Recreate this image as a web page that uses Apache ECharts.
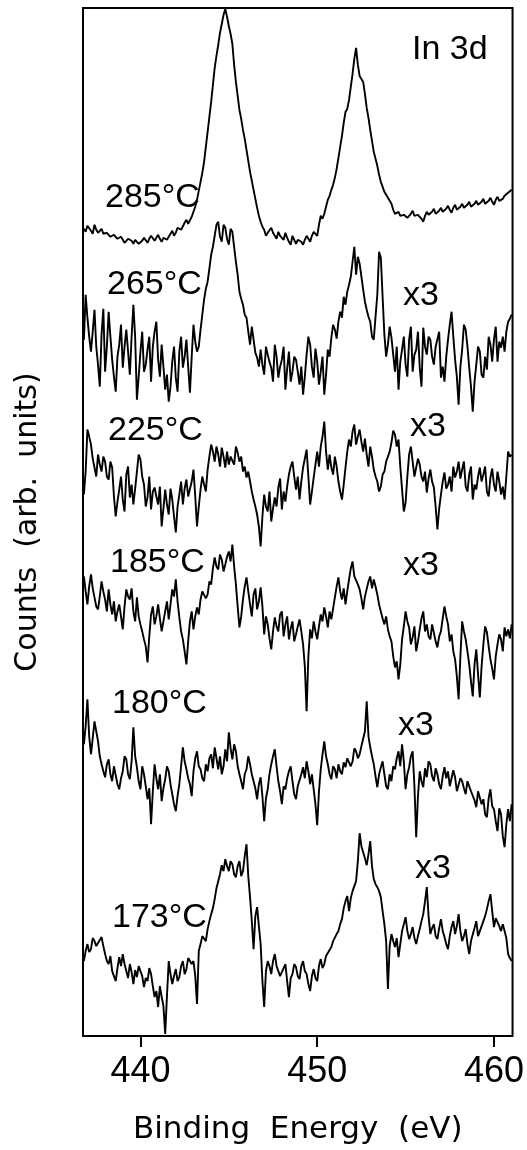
<!DOCTYPE html>
<html>
<head>
<meta charset="utf-8">
<script src="https://cdn.jsdelivr.net/npm/echarts@6/dist/echarts.min.js"></script>
<style>
  html, body { margin: 0; padding: 0; background: #ffffff; }
  #chart { width: 527px; height: 1150px; }
</style>
</head>
<body>
<div id="chart"></div>
<script>
// In 3d core-level spectra after annealing at several temperatures,
// stacked with a vertical offset (counts in arbitrary units).

// energy channels: first channel and spacing (eV)
const energyStart = 436.8;
const energyStep = 0.1;

const tickValues = [440, 450, 460];

const temperatures = ['285°C', '265°C', '225°C', '185°C', '180°C', '173°C'];
const scaleFactors = ['', 'x3', 'x3', 'x3', 'x3', 'x3'];

const counts285 = [
  808, 805, 811, 809, 806, 803, 812, 807, 804, 806, 808, 803, 801, 804, 805, 800, 799, 802, 803, 798,
  797, 800, 801, 794, 795, 798, 799, 796, 793, 797, 798, 793, 792, 796, 799, 797, 794, 798, 801, 799,
  796, 799, 802, 798, 795, 799, 801, 797, 799, 803, 806, 801, 804, 809, 811, 807, 809, 814, 817, 813,
  815, 820, 825, 830, 837, 846, 855, 864, 875, 890, 905, 920, 935, 952, 969, 981, 992, 1004, 1013, 1022,
  1028, 1020, 1011, 1003, 993, 972, 955, 941, 927, 918, 907, 898, 887, 876, 865, 856, 847, 838, 829, 821,
  815, 810, 807, 801, 804, 806, 809, 804, 801, 798, 805, 801, 799, 797, 804, 799, 795, 792, 801, 797,
  793, 797, 799, 795, 792, 797, 801, 798, 795, 801, 805, 803, 801, 812, 821, 818, 823, 830, 837, 841,
  847, 852, 859, 868, 879, 890, 901, 914, 925, 928, 937, 950, 963, 978, 989, 972, 961, 962, 955, 943,
  929, 919, 907, 896, 885, 878, 871, 862, 855, 850, 845, 842, 839, 836, 833, 827, 823, 822, 825, 821,
  819, 822, 824, 819, 818, 823, 826, 821, 819, 822, 823, 818, 815, 821, 825, 822, 820, 825, 828, 823,
  821, 826, 829, 825, 823, 828, 831, 827, 824, 829, 832, 827, 825, 830, 833, 829, 827, 832, 835, 830,
  828, 833, 836, 832, 830, 835, 838, 833, 831, 836, 839, 835, 832, 837, 840, 836, 834, 838, 841, 843,
  844, 846, 847
];

const counts265 = [
  697, 742, 719, 700, 685, 705, 727, 690, 672, 650, 702, 728, 665, 690, 725, 700, 677, 660, 645, 680,
  692, 712, 669, 690, 707, 685, 662, 700, 732, 700, 637, 660, 685, 705, 665, 672, 687, 700, 655, 690,
  705, 715, 677, 660, 692, 670, 647, 662, 635, 650, 675, 690, 659, 645, 685, 700, 669, 680, 697, 670,
  644, 680, 712, 695, 685, 690, 707, 722, 737, 748, 755, 768, 782, 790, 801, 812, 815, 800, 795, 812,
  809, 798, 792, 808, 805, 790, 775, 762, 745, 738, 732, 722, 719, 705, 692, 710, 697, 684, 679, 670,
  687, 672, 662, 690, 682, 675, 669, 655, 692, 680, 659, 670, 677, 690, 647, 668, 685, 655, 665, 680,
  677, 665, 652, 670, 642, 660, 682, 700, 692, 670, 659, 688, 675, 652, 665, 680, 642, 662, 687, 680,
  699, 712, 707, 698, 715, 725, 719, 740, 732, 745, 752, 760, 775, 790, 762, 780, 773, 760, 747, 735,
  727, 720, 715, 700, 697, 720, 742, 785, 779, 740, 702, 680, 692, 710, 699, 682, 665, 690, 647, 675,
  687, 700, 672, 660, 697, 710, 665, 682, 687, 705, 669, 650, 709, 690, 682, 700, 697, 680, 672, 690,
  692, 705, 659, 670, 655, 680, 697, 712, 725, 700, 677, 660, 632, 670, 687, 712, 707, 690, 669, 650,
  625, 655, 672, 690, 685, 662, 659, 680, 667, 700, 692, 675, 697, 710, 675, 695, 689, 700, 685, 705,
  715, 718, 722
];

const counts225 = [
  542, 565, 607, 600, 592, 578, 569, 560, 582, 572, 565, 580, 575, 560, 557, 575, 569, 540, 520, 535,
  547, 560, 537, 525, 562, 570, 539, 552, 532, 548, 565, 582, 577, 560, 552, 530, 539, 560, 527, 545,
  549, 540, 532, 550, 510, 528, 547, 532, 522, 548, 537, 520, 504, 530, 542, 555, 532, 548, 557, 540,
  539, 555, 567, 540, 510, 530, 547, 560, 552, 545, 567, 580, 592, 585, 575, 590, 582, 570, 589, 580,
  569, 585, 572, 580, 582, 572, 590, 584, 575, 580, 565, 570, 559, 565, 555, 545, 537, 530, 522, 510,
  490, 520, 542, 530, 525, 545, 515, 528, 539, 530, 549, 558, 527, 545, 535, 550, 562, 570, 575, 560,
  547, 560, 537, 555, 569, 578, 587, 560, 532, 545, 559, 572, 585, 570, 590, 600, 615, 585, 567, 582,
  569, 562, 580, 570, 555, 545, 537, 552, 569, 585, 597, 590, 605, 612, 592, 600, 607, 595, 585, 598,
  582, 570, 590, 580, 567, 560, 555, 545, 550, 562, 565, 575, 577, 585, 594, 606, 602, 590, 597, 570,
  547, 525, 534, 560, 582, 590, 575, 560, 562, 578, 572, 560, 555, 565, 544, 558, 567, 555, 549, 530,
  507, 528, 542, 555, 564, 548, 552, 560, 545, 570, 559, 565, 575, 558, 567, 575, 550, 545, 562, 570,
  537, 552, 547, 560, 569, 555, 562, 570, 545, 540, 559, 568, 552, 545, 565, 555, 542, 550, 537, 560,
  585, 580, 582
];

const counts185 = [
  460, 445, 432, 450, 462, 448, 439, 430, 427, 440, 455, 445, 437, 425, 447, 432, 422, 435, 415, 425,
  432, 420, 407, 430, 447, 440, 437, 448, 425, 415, 439, 420, 412, 405, 397, 390, 374, 400, 422, 430,
  412, 420, 432, 418, 405, 415, 425, 435, 417, 432, 447, 440, 457, 435, 419, 405, 397, 385, 372, 395,
  415, 425, 407, 420, 429, 422, 437, 445, 447, 438, 442, 455, 452, 468, 479, 470, 467, 482, 477, 465,
  472, 480, 485, 475, 492, 470, 452, 430, 409, 420, 437, 450, 459, 445, 432, 420, 442, 448, 427, 435,
  449, 430, 402, 420, 412, 398, 387, 405, 419, 410, 405, 422, 425, 400, 412, 420, 397, 408, 415, 395,
  402, 410, 417, 405, 392, 370, 325, 380, 407, 398, 415, 405, 397, 410, 422, 415, 429, 420, 409, 425,
  417, 428, 439, 450, 459, 445, 437, 448, 432, 445, 457, 468, 475, 460, 462, 452, 447, 438, 427, 440,
  442, 455, 460, 448, 457, 450, 442, 432, 425, 418, 412, 420, 407, 400, 395, 380, 369, 375, 357, 372,
  397, 410, 425, 415, 409, 392, 399, 410, 385, 395, 407, 418, 425, 405, 412, 400, 397, 412, 410, 395,
  389, 400, 405, 418, 430, 420, 412, 395, 402, 385, 377, 360, 337, 380, 415, 405, 397, 385, 372, 355,
  340, 372, 387, 362, 339, 370, 392, 410, 404, 390, 377, 368, 357, 380, 392, 402, 397, 385, 409, 400,
  407, 398, 412
];

const counts180 = [
  292, 310, 337, 300, 282, 298, 315, 305, 295, 280, 272, 265, 259, 272, 277, 262, 255, 270, 269, 252,
  247, 258, 265, 280, 277, 262, 257, 275, 309, 280, 269, 255, 247, 270, 262, 250, 237, 248, 212, 245,
  272, 258, 247, 262, 235, 248, 257, 270, 265, 252, 242, 232, 225, 240, 252, 270, 289, 275, 267, 258,
  252, 240, 265, 278, 285, 270, 267, 258, 255, 272, 265, 278, 282, 268, 289, 278, 267, 280, 262, 270,
  287, 275, 304, 288, 277, 292, 285, 270, 262, 255, 247, 262, 267, 280, 272, 262, 255, 248, 237, 252,
  259, 240, 215, 238, 247, 262, 272, 280, 287, 270, 255, 245, 232, 250, 247, 258, 265, 270, 255, 242,
  237, 250, 252, 262, 269, 258, 275, 265, 252, 262, 247, 232, 211, 245, 267, 282, 295, 280, 272, 262,
  257, 270, 267, 258, 272, 265, 262, 274, 269, 278, 279, 270, 275, 288, 285, 278, 282, 290, 292, 305,
  335, 300, 289, 280, 272, 260, 249, 262, 269, 275, 262, 250, 247, 262, 255, 270, 267, 278, 285, 270,
  292, 275, 247, 262, 269, 280, 285, 250, 199, 240, 265, 255, 249, 268, 259, 275, 272, 260, 255, 268,
  262, 252, 247, 260, 269, 258, 265, 250, 252, 266, 259, 245, 247, 258, 255, 248, 242, 255, 257, 245,
  244, 236, 229, 245, 247, 232, 237, 222, 219, 238, 247, 230, 227, 215, 205, 228, 222, 200, 189, 212,
  227, 215, 232
];

const counts173 = [
  75, 85, 92, 84, 87, 98, 95, 90, 89, 96, 99, 90, 82, 75, 72, 80, 65, 60, 55, 68,
  79, 70, 82, 72, 65, 58, 72, 64, 52, 66, 59, 70, 72, 60, 49, 58, 55, 68, 62, 50,
  39, 45, 29, 50, 39, 30, 2, 40, 75, 62, 52, 60, 67, 55, 59, 70, 75, 62, 67, 78,
  79, 72, 75, 60, 32, 85, 92, 100, 99, 95, 107, 115, 122, 128, 137, 148, 155, 162, 171, 165,
  177, 170, 165, 175, 172, 162, 159, 170, 175, 160, 165, 180, 192, 160, 139, 115, 87, 120, 129, 110,
  92, 55, 29, 65, 75, 70, 62, 75, 82, 70, 69, 60, 59, 68, 72, 55, 39, 58, 62, 72,
  69, 60, 57, 70, 75, 65, 62, 52, 45, 60, 67, 58, 55, 70, 77, 68, 72, 80, 82, 86,
  89, 95, 97, 102, 105, 112, 117, 128, 135, 140, 125, 138, 145, 150, 155, 175, 203, 190, 189, 178,
  171, 182, 195, 170, 157, 152, 149, 145, 139, 125, 112, 95, 47, 90, 102, 95, 89, 98, 79, 92,
  105, 112, 119, 105, 97, 102, 109, 98, 92, 100, 107, 115, 122, 135, 149, 120, 102, 108, 112, 100,
  97, 108, 117, 105, 99, 92, 87, 100, 109, 115, 102, 110, 122, 105, 95, 100, 107, 92, 82, 95,
  97, 108, 115, 100, 102, 110, 112, 120, 127, 135, 142, 125, 109, 118, 119, 110, 105, 112, 112, 98,
  82, 78, 75
];

const spectra = [counts285, counts265, counts225, counts185, counts180, counts173];

// pair each count with the binding energy of its channel
function withEnergy(values) {
  return values.map((v, i) => [+(energyStart + i * energyStep).toFixed(2), v]);
}

const chart = echarts.init(document.getElementById('chart'), null, { renderer: 'canvas' });

const labelFont = '34px "Liberation Sans", Arial, sans-serif';

// annotation placement (pixels): temperature on the left, scale factor on the right
const tempLabelPos = [[105, 198], [107, 285], [108, 431], [110, 563], [112, 704], [112, 918]];
const scaleLabelPos = [null, [403, 296], [410, 427], [403, 566], [398, 726], [415, 869]];

const graphics = [{
  type: 'text',
  style: { text: 'In 3d', x: 412, y: 50, font: labelFont, fill: '#000', textVerticalAlign: 'middle' }
}];
temperatures.forEach((t, k) => {
  graphics.push({
    type: 'text',
    style: { text: t, x: tempLabelPos[k][0], y: tempLabelPos[k][1], font: labelFont, fill: '#000', textVerticalAlign: 'middle' }
  });
  if (scaleFactors[k]) {
    graphics.push({
      type: 'text',
      style: { text: scaleFactors[k], x: scaleLabelPos[k][0], y: scaleLabelPos[k][1], font: labelFont, fill: '#000', textVerticalAlign: 'middle' }
    });
  }
});

chart.setOption({
  animation: false,
  backgroundColor: '#ffffff',
  grid: {
    left: 83, right: 12, top: 8, bottom: 113,
    show: true, borderColor: '#000', borderWidth: 2, backgroundColor: 'transparent'
  },
  xAxis: {
    type: 'value',
    min: 436.75,
    max: 461.05,
    name: 'Binding  Energy  (eV)',
    nameLocation: 'middle',
    nameGap: 78,
    nameTextStyle: { fontFamily: '"DejaVu Sans", sans-serif', fontSize: 31, color: '#000' },
    axisLine: { show: false },
    axisTick: { show: true, inside: false, length: 11, customValues: tickValues, lineStyle: { color: '#000', width: 2 } },
    axisLabel: { show: true, customValues: tickValues, margin: 18, fontFamily: '"Liberation Sans", Arial, sans-serif', fontSize: 36, color: '#000' },
    splitLine: { show: false }
  },
  yAxis: {
    type: 'value',
    min: 0,
    max: 1029,
    name: 'Counts  (arb.  units)',
    nameLocation: 'middle',
    nameGap: 40,
    nameTextStyle: { fontFamily: '"DejaVu Sans", sans-serif', fontSize: 30, color: '#000' },
    axisLine: { show: false },
    axisTick: { show: false },
    axisLabel: { show: false },
    splitLine: { show: false }
  },
  series: spectra.map((values, k) => ({
    type: 'line',
    name: temperatures[k],
    data: withEnergy(values),
    showSymbol: false,
    symbol: 'none',
    lineStyle: { color: '#000', width: 1.9 },
    z: 3
  })),
  graphic: graphics
});
</script>
</body>
</html>
